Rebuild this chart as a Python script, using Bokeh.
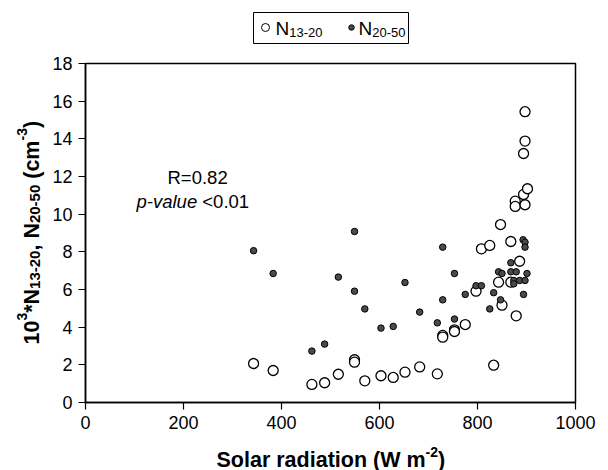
import math
from bokeh.plotting import figure
from bokeh.layouts import column, row
from bokeh.models import Range1d, FixedTicker, Label
from bokeh.core.properties import value
from bokeh.embed import file_html
from bokeh.resources import INLINE

# ---- data ----
solar_13_20 = [343, 383, 462, 488, 516, 549, 549, 570, 603, 628, 652, 682, 718, 729, 729,
               753, 753, 775, 797, 808, 825, 833, 843, 850, 847, 868, 868, 877, 877, 886,
               879, 894, 894, 897, 897, 897, 902]
n_13_20 = [2.07, 1.70, 0.96, 1.05, 1.50, 2.27, 2.14, 1.15, 1.42, 1.33, 1.61, 1.89, 1.52, 3.56, 3.47,
           3.86, 3.77, 4.14, 5.91, 8.16, 8.34, 1.98, 6.39, 5.17, 9.45, 6.39, 8.55, 10.69, 10.41, 7.50,
           4.60, 13.22, 11.05, 15.44, 13.88, 10.50, 11.35]

solar_20_50 = [343, 383, 462, 488, 516, 549, 549, 570, 603, 628, 652, 682, 718, 729, 729,
               753, 753, 775, 797, 808, 825, 833, 843, 847, 850, 868, 868, 879, 874, 886,
               897, 874, 901, 894, 893, 897, 897]
n_20_50 = [8.06, 6.85, 2.73, 3.10, 6.66, 9.08, 5.91, 4.97, 3.95, 4.04, 6.37, 4.80, 4.23, 8.25, 5.45,
           6.85, 4.43, 5.74, 6.20, 6.20, 4.97, 5.83, 6.94, 5.45, 6.85, 7.42, 6.94, 6.94, 6.48, 6.48,
           6.48, 6.30, 6.85, 5.74, 8.64, 8.51, 8.25]

x_ticks = [0, 200, 400, 600, 800, 1000]
y_ticks = [0, 2, 4, 6, 8, 10, 12, 14, 16, 18]
stat_r = "R=0.82"
stat_p = ("p-value", "<0.01")

# ---- layout (canvas pixels) ----
W, H = 608, 470
TOP_H = 50          # legend strip height
BOT_H = 30          # x-label strip height
LEFT_W = 48         # y-label strip width
L, R, T, B = 85, 575, 63, 402   # plot frame on the canvas
XMIN, XMAX, YMIN, YMAX = 0, 1000, 0, 18
FONT = "Liberation Sans"
DOT_COLOR = "#4a4a4a"
BASE_FIX = 6        # text is drawn this many px below the requested baseline

BOLD_W = {' ': 278, '(': 333, ')': 333, '*': 389, ',': 278, '-': 333, 'N': 722, 'S': 667,
          'W': 944, 'a': 556, 'c': 556, 'd': 611, 'i': 278, 'l': 278, 'm': 889, 'n': 611,
          'o': 611, 'r': 389, 't': 333}
REG_W = {' ': 278, 'N': 722, '-': 333, 'R': 667, '=': 584, '.': 278, '<': 584, 'p': 556,
         'v': 500, 'a': 556, 'l': 222, 'u': 556, 'e': 556}


def text_width(t, size, bold):
    table = BOLD_W if bold else REG_W
    return sum((556 if ch.isdigit() else table.get(ch, 556)) for ch in t) * size / 1000.0


def blank_fig(w, h, y_lo, y_hi, b_top=0, b_bottom=0):
    f = figure(width=w, height=h, output_backend="svg", toolbar_location=None, title=None,
               x_range=Range1d(0, w), y_range=Range1d(y_lo, y_hi),
               x_axis_type=None, y_axis_type=None,
               min_border_left=0, min_border_right=0,
               min_border_top=b_top, min_border_bottom=b_bottom)
    f.outline_line_color = None
    f.background_fill_color = "white"
    f.border_fill_color = "white"
    return f


def compose(fig, pieces, x0, y0, vertical):
    """Lay text pieces side by side; x0, y0 are canvas pixels (y down).
    Local coordinates of every strip: x = canvas x (within strip), y = H - canvas y."""
    pos = 0.0
    for text, size, bold, italic, shift in pieces:
        style = ("bold " if bold else "") + ("italic" if italic else "")
        style = style.strip() or "normal"
        if vertical:
            px, py, ang = x0 - shift - BASE_FIX, y0 - pos, math.pi / 2
        else:
            px, py, ang = x0 + pos, y0 - shift - BASE_FIX, 0
        if text.strip():
            fig.text(x=[px], y=[H - py], text=[text], angle=ang,
                     text_align="left", text_baseline="alphabetic",
                     text_font=value(FONT), text_font_size=value(f"{size}px"),
                     text_font_style=style, text_color="black")
        pos += text_width(text, size, bold)


# ---- main plot ----
MAIN_W, MAIN_H = W - LEFT_W, H - TOP_H - BOT_H
p = figure(width=MAIN_W, height=MAIN_H, output_backend="svg", toolbar_location=None, title=None,
           x_range=Range1d(XMIN, XMAX), y_range=Range1d(YMIN, YMAX),
           min_border_left=L - LEFT_W, min_border_right=W - R,
           min_border_top=T - TOP_H, min_border_bottom=(H - BOT_H) - B)
p.background_fill_color = "white"
p.border_fill_color = "white"
p.outline_line_color = "black"
p.outline_line_width = 1.5
p.xgrid.visible = False
p.ygrid.visible = False

p.xaxis.ticker = FixedTicker(ticks=x_ticks)
p.yaxis.ticker = FixedTicker(ticks=y_ticks)
for ax in (p.xaxis[0], p.yaxis[0]):
    ax.axis_line_color = "black"
    ax.axis_line_width = 1.5
    ax.major_tick_line_color = "black"
    ax.major_tick_line_width = 1.2
    ax.major_tick_out = 7
    ax.major_tick_in = 0
    ax.minor_tick_line_color = None
    ax.major_label_text_font = FONT
    ax.major_label_text_font_size = "18px"
    ax.major_label_text_color = "black"
    ax.major_label_standoff = 6
    ax.axis_label = None

p.scatter(solar_13_20, n_13_20, size=10, fill_color="white", line_color="black", line_width=1.3)
p.scatter(solar_20_50, n_20_50, size=6.5, fill_color=DOT_COLOR, line_color="black", line_width=1)


def dx(px):
    return XMIN + (px - L) / (R - L) * (XMAX - XMIN)


def dy(py):
    return YMIN + (B - py) / (B - T) * (YMAX - YMIN)


def stat_piece(text, px, py, italic=False):
    p.add_layout(Label(x=dx(px), y=dy(py - BASE_FIX), text=text, text_align="left",
                       text_baseline="alphabetic", text_font=FONT, text_font_size="18.5px",
                       text_font_style="italic" if italic else "normal", text_color="black"))


stat_piece(stat_r, 167, 183)
stat_piece(stat_p[0], 136, 207, italic=True)
stat_piece(stat_p[1], 136 + text_width(stat_p[0] + " ", 18.5, False), 207)

# ---- legend strip (canvas y 0..TOP_H) ----
leg = blank_fig(W, TOP_H, H - TOP_H, H)
leg.quad(left=[253], right=[408], top=[H - 12], bottom=[H - 43],
         fill_color="white", line_color="black", line_width=1)
leg.scatter(x=[265], y=[H - 27], size=8, fill_color="white", line_color="black", line_width=1)
leg.scatter(x=[351], y=[H - 27], size=5.5, fill_color=DOT_COLOR, line_color="black", line_width=1)
LS, ls = 19, 13
compose(leg, [("N", LS, False, False, 0), ("13-20", ls, False, False, -4)], 275, 34, False)
compose(leg, [("N", LS, False, False, 0), ("20-50", ls, False, False, -4)], 358, 34, False)

# ---- y-label strip (frame aligned with the plot frame: canvas y T..B) ----
yl = blank_fig(LEFT_W, MAIN_H, H - B, H - T, b_top=T - TOP_H, b_bottom=(H - BOT_H) - B)
S, sb, sp = 21.5, 15, 14
compose(yl,
        [("10", S, True, False, 0), ("3", sp, True, False, 10), ("*N", S, True, False, 0),
         ("13-20", sb, True, False, -3), (",", S, True, False, 0), (" ", S, True, False, 0),
         ("N", S, True, False, 0), ("20-50", sb, True, False, -3), (" ", S, True, False, 0),
         ("(cm", S, True, False, 0), ("-3", sp, True, False, 10), (")", S, True, False, 0)],
        37, 344, True)

# ---- x-label strip (canvas y H-BOT_H..H) ----
xl = blank_fig(W, BOT_H, 0, BOT_H)
compose(xl,
        [("Solar radiation (W m", S, True, False, 0), ("-2", sp, True, False, 8),
         (")", S, True, False, 0)], 216, 465, False)

layout = column(leg, row(yl, p), xl)
open("out.html", "w").write(file_html(layout, INLINE))
